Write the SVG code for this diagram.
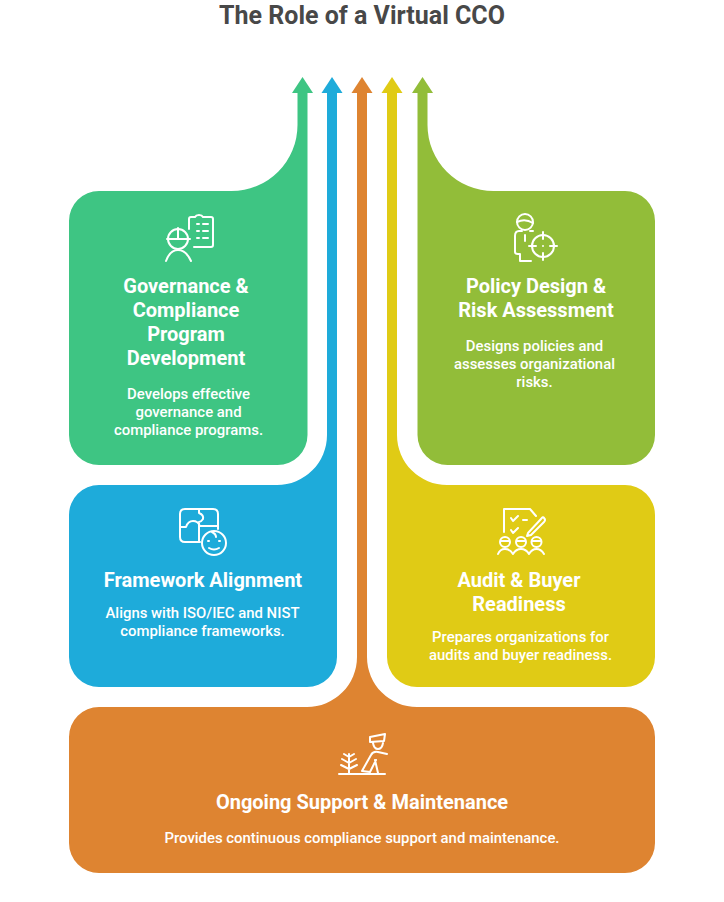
<svg xmlns="http://www.w3.org/2000/svg" width="724" height="902" viewBox="0 0 724 902">
<style>
text{font-family:Roboto,"Liberation Sans",sans-serif;text-anchor:middle;fill:#fff}
.title{font-size:25px;font-weight:700;fill:#484848}
.h{font-size:20px;font-weight:700}
.d{font-size:14.9px;font-weight:500}
.i{fill:none;stroke:#fff;stroke-width:2;stroke-linecap:round;stroke-linejoin:round}
</style>
<rect width="724" height="902" fill="#fff"/>
<text class="title" x="362" y="24">The Role of a Virtual CCO</text>
<g id="connectors">
<polygon points="302.500,77 313,93 292,93" fill="#3ec583"/>
<polygon points="332,77 342.500,93 321.500,93" fill="#1eabda"/>
<polygon points="362,77 372.500,93 351.500,93" fill="#de8431"/>
<polygon points="392,77 402.500,93 381.500,93" fill="#e0cb15"/>
<polygon points="422.500,77 433,93 412,93" fill="#92bd39"/>
</g>
<g id="node-orange">
<path fill="#de8431" d="M357 93H367V657A50 50 0 0 0 417 707H625A30 30 0 0 1 655 737V843A30 30 0 0 1 625 873H99A30 30 0 0 1 69 843V737A30 30 0 0 1 99 707H307A50 50 0 0 0 357 657Z"/>
<path class="i" d="M339 774H385M349 773V754M342 759L349 763L356 759M341 765L349 769L357 765M344 754L349 757L354 754M362 771L371 755Q373 751 378 752L387 754M362 771L370 772L376 760M375 760L378 773M370 742L384 741L385 734L370 737ZM373 743Q374 749 378 749Q382 749 383 743"/>
<text class="h" x="362" y="809">Ongoing Support &amp; Maintenance</text>
<text class="d" x="362" y="843">Provides continuous compliance support and maintenance.</text>
</g>
<g id="node-blue">
<path fill="#1eabda" d="M327 93H337V657A30 30 0 0 1 307 687H99A30 30 0 0 1 69 657V515A30 30 0 0 1 99 485H277A50 50 0 0 0 327 435Z"/>
<path class="i" d="M200 542H185Q180 542 180 537V514Q180 509 185 509H213Q218 509 218 514V529M180 527H186Q188 521 193 521Q198 521 200 526H217M199 526V542M199 509V513Q204 515 203 519Q201 522 199 522V526"/>
<circle class="i" cx="214" cy="543" r="12"/>
<path class="i" d="M209 548Q214 551 219 548M208 541H209M219 541H220M212 532Q216 534 216 537"/>
<text class="h" x="203" y="587">Framework Alignment</text>
<text class="d" x="202.500" y="618">Aligns with ISO/IEC and NIST</text>
<text class="d" x="202.500" y="636">compliance frameworks.</text>
</g>
<g id="node-green">
<path fill="#3ec583" d="M297.500 93H307.500V435A30 30 0 0 1 277.500 465H99A30 30 0 0 1 69 435V221A30 30 0 0 1 99 191H231.500A66 66 0 0 0 297.500 125Z"/>
<circle class="i" cx="178" cy="239" r="10"/>
<path class="i" d="M167 239H190M178 228V239M166 261Q170 250 178 250Q186 250 191 261M189 229V219Q189 217 191 217H195Q196 215 199 215Q202 215 203 217H211Q213 217 213 219V245Q213 247 211 247H194M197 224H199M203 224H208M197 231H199M203 231H208M197 238H199M203 238H208"/>
<text class="h" x="186" y="293">Governance &amp;</text>
<text class="h" x="186" y="317">Compliance</text>
<text class="h" x="186" y="341">Program</text>
<text class="h" x="186" y="365">Development</text>
<text class="d" x="188.500" y="399">Develops effective</text>
<text class="d" x="188.500" y="417">governance and</text>
<text class="d" x="188.500" y="435">compliance programs.</text>
</g>
<g id="node-olive">
<path fill="#92bd39" d="M417.500 93H427.500V125A66 66 0 0 0 493.500 191H625A30 30 0 0 1 655 221V435A30 30 0 0 1 625 465H447.500A30 30 0 0 1 417.500 435Z"/>
<circle class="i" cx="525" cy="222" r="8"/>
<path class="i" d="M517 222Q525 218 533 223M522 231H519Q515 231 515 236V252Q515 254 518 254H520V261H531M525 235V241M530 231H533"/>
<circle class="i" cx="543" cy="246" r="11"/>
<path class="i" d="M543 232V239M543 253V260M529 246H536M550 246H557M543 246V246"/>
<text class="h" x="536" y="293">Policy Design &amp;</text>
<text class="h" x="536" y="317">Risk Assessment</text>
<text class="d" x="534.500" y="351">Designs policies and</text>
<text class="d" x="534.500" y="369">assesses organizational</text>
<text class="d" x="534.500" y="387">risks.</text>
</g>
<g id="node-yellow">
<path fill="#e0cb15" d="M387 93H397V435A50 50 0 0 0 447 485H625A30 30 0 0 1 655 515V657A30 30 0 0 1 625 687H417A30 30 0 0 1 387 657Z"/>
<path class="i" d="M504 532V509H530L536 516M511 518L513 521L518 516M511 530L513 533L518 528M523 520H527M528 533L541 519Q543 516 544 518Q546 520 544 522L531 535L527 536Z"/>
<circle class="i" cx="505" cy="542" r="5"/><circle class="i" cx="521" cy="542" r="5"/><circle class="i" cx="536.500" cy="542" r="5"/>
<path class="i" d="M498 554Q500 549 505 549Q510 549 513 554Q516 549 521 549Q526 549 529 554Q532 549 536.500 549Q541 549 544 554M501 541H509M517 541H525M532.500 541H540.500"/>
<text class="h" x="519" y="587">Audit &amp; Buyer</text>
<text class="h" x="519" y="611">Readiness</text>
<text class="d" x="520.500" y="642">Prepares organizations for</text>
<text class="d" x="520.500" y="660">audits and buyer readiness.</text>
</g>
</svg>
